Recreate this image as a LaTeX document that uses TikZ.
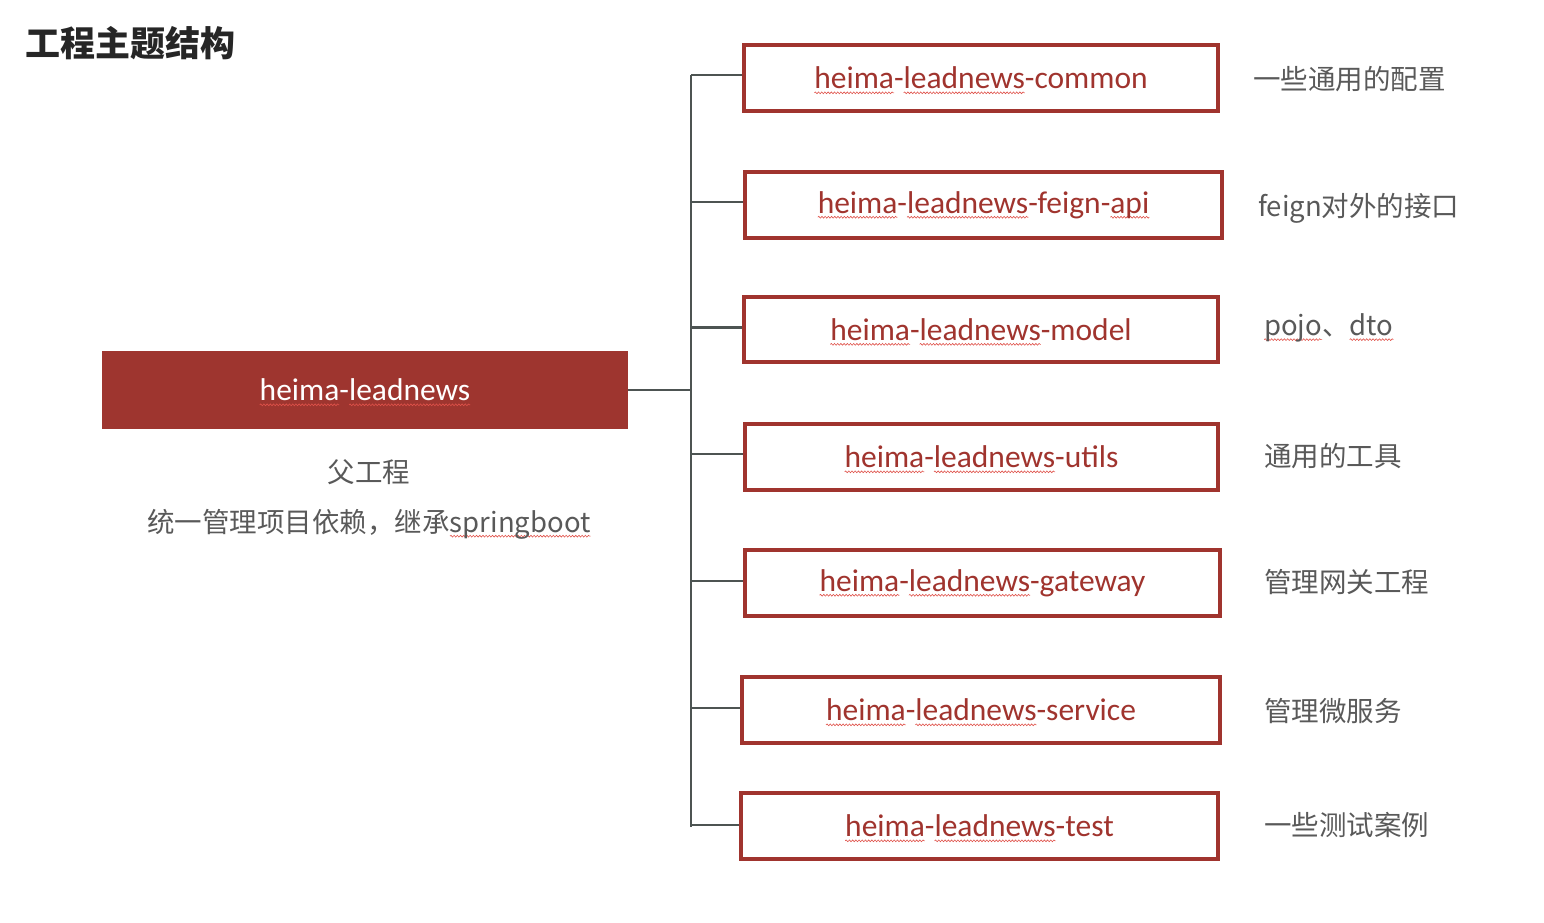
\documentclass[tikz,border=0pt]{standalone}
\usepackage{fontspec}
\setmainfont{Carlito}
\newfontfamily\cjk{Noto Sans CJK SC}
\usetikzlibrary{decorations.pathmorphing}
\definecolor{boxred}{HTML}{A0342E}
\definecolor{mainred}{HTML}{9E352F}
\definecolor{txtgray}{HTML}{595959}
\definecolor{linegray}{HTML}{4D5452}
\definecolor{sqred}{HTML}{E0524A}
\definecolor{titleblack}{HTML}{262626}
\newsavebox\sqbox
\newlength\sqlen
\newcommand\sqw[1]{\sbox\sqbox{#1}\setlength\sqlen{\wd\sqbox}%
  \rlap{\tikz[overlay,baseline=0pt]\draw[sqred,line width=0.6pt,decorate,
    decoration={snake,amplitude=0.9pt,segment length=3.2pt}]
    (0pt,-4pt) -- (\sqlen,-4pt);}\usebox\sqbox}
\tikzset{
  modbox/.style={draw=boxred, line width=3.5pt, fill=white, minimum height=66pt,
    text=boxred, font=\fontsize{31.5}{36}\selectfont, inner sep=0pt},
  mainbox/.style={fill=mainred, minimum width=526pt, minimum height=78pt,
    text=white, font=\fontsize{31.5}{36}\selectfont, inner sep=0pt},
  note/.style={text=txtgray, font=\cjk\fontsize{27.5}{32}\selectfont, inner sep=0pt},
  conn/.style={draw=linegray, line width=2.5pt},
  titletext/.style={text=titleblack, font=\cjk\bfseries\fontsize{35}{40}\selectfont, inner sep=0pt}
}
\begin{document}
\begin{tikzpicture}[x=1pt,y=-1pt]
\useasboundingbox (0,0) rectangle (1544,922);
\node[titletext, anchor=west] (title) at (25,43) {工程主题结构};

\node[mainbox] (main) at (365,390) {\sqw{heima}-\sqw{leadnews}};
\node[note] (fu) at (369,472) {父工程};
\node[note] (fu2) at (369,524) {统一管理项目依赖，继承\sqw{springboot}};

\coordinate (t) at (691,390);

\node[modbox, minimum width=474pt] (b1) at (981,78) {\sqw{heima}-\sqw{leadnews}-common};
\node[modbox, minimum width=477pt] (b2) at (983.5,205) {\sqw{heima}-\sqw{leadnews}-feign-\sqw{api}};
\node[modbox, minimum width=474pt, minimum height=65pt] (b3) at (981,329.5) {\sqw{heima}-\sqw{leadnews}-model};
\node[modbox, minimum width=473pt] (b4) at (981.5,457) {\sqw{heima}-\sqw{leadnews}-utils};
\node[modbox, minimum width=475pt] (b5) at (982.5,583) {\sqw{heima}-\sqw{leadnews}-gateway};
\node[modbox, minimum width=478pt] (b6) at (981,710) {\sqw{heima}-\sqw{leadnews}-service};
\node[modbox, minimum width=477pt] (b7) at (979.5,826) {\sqw{heima}-\sqw{leadnews}-test};

\node[note, anchor=west] (n1) at (1253,79) {一些通用的配置};
\node[note, anchor=west] (n2) at (1258,208) {feign对外的接口};
\node[note, anchor=west] (n3) at (1264,328) {\sqw{pojo}、\sqw{dto}};
\node[note, anchor=west] (n4) at (1264,456) {通用的工具};
\node[note, anchor=west] (n5) at (1264,582) {管理网关工程};
\node[note, anchor=west] (n6) at (1264,711) {管理微服务};
\node[note, anchor=west] (n7) at (1264,825) {一些测试案例};

\draw[conn] (main.east) -- (main.east -| t);
\draw[conn] ([yshift=3pt]b1.west -| t) -- ([yshift=-1pt]b7.west -| t);
\foreach \b/\d in {b1/3,b2/3,b3/2,b4/3,b5/2,b6/2,b7/1}{
  \draw[conn] ([yshift=\d pt]\b.west) -- ([yshift=\d pt]\b.west -| t);
}
\end{tikzpicture}
\end{document}
